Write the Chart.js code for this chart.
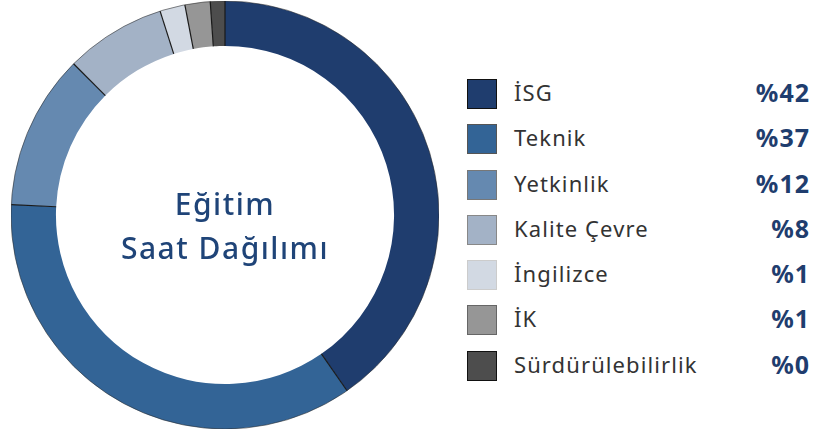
<!DOCTYPE html>
<html lang="tr">
<head>
<meta charset="utf-8">
<script src="https://cdn.jsdelivr.net/npm/chart.js@4/dist/chart.umd.min.js"></script>
<style>
  html, body { margin: 0; padding: 0; background: #fff; }
  body { width: 827px; height: 433px; position: relative; overflow: hidden; font-family: "Noto Sans", sans-serif; }
  #chartWrap { position: absolute; left: 11px; top: 1px; width: 428px; height: 428px; }
  #legend { position: absolute; left: 467px; top: 79px; width: 342px; }
  .row { position: relative; height: 45.3px; }
  .box { position: absolute; left: 0; top: 0; width: 28px; height: 28px; border: 1px solid #777; }
  .lbl { position: absolute; left: 47px; top: -2px; line-height: 30px; font-size: 22px; letter-spacing: 1.1px; color: #333; }
  .pct { position: absolute; right: -1px; top: -2px; line-height: 30px; font-size: 25px; letter-spacing: 1px; font-weight: 700; color: #1f3d6e; }
</style>
</head>
<body>
<div id="chartWrap"><canvas id="egitimChart"></canvas></div>
<div id="legend"></div>
<script>
// Eğitim saat dağılımı - halka grafik
const kategoriler = ['İSG', 'Teknik', 'Yetkinlik', 'Kalite Çevre', 'İngilizce', 'İK', 'Sürdürülebilirlik'];
const dilimler = [40.3, 35.4, 11.7, 7.6, 1.9, 1.9, 1.1]; // resimden okunan dilim payları
const yuzdeEtiketleri = ['%42', '%37', '%12', '%8', '%1', '%1', '%0'];
const renkler = ['#1f3d6e', '#336496', '#6589b0', '#a3b2c6', '#d2d9e3', '#969696', '#4d4d4d'];
const kutuKenar = ['#111', '#555', '#777', '#888', '#ccc', '#666', '#111'];
const merkezSatirlari = ['Eğitim', 'Saat Dağılımı'];

// Dilimler arasındaki koyu çizgiler + dış kenar
const ayiriciPlugin = {
    id: 'ayirici',
    afterDatasetsDraw(chart) {
        const ctx = chart.ctx;
        const arcs = chart.getDatasetMeta(0).data;
        if (!arcs.length) return;
        ctx.save();
        ctx.strokeStyle = '#1a1a1a';
        ctx.lineWidth = 1.2;
        arcs.forEach(a => {
            const c = Math.cos(a.startAngle), s = Math.sin(a.startAngle);
            ctx.beginPath();
            ctx.moveTo(a.x + c * a.innerRadius, a.y + s * a.innerRadius);
            ctx.lineTo(a.x + c * a.outerRadius, a.y + s * a.outerRadius);
            ctx.stroke();
        });
        ctx.strokeStyle = 'rgba(40,40,40,0.55)';
        ctx.lineWidth = 1;
        ctx.beginPath();
        ctx.arc(arcs[0].x, arcs[0].y, arcs[0].outerRadius, 0, Math.PI * 2);
        ctx.stroke();
        ctx.restore();
    }
};

// Ortadaki başlık
const merkezYaziPlugin = {
    id: 'merkezYazi',
    afterDraw(chart) {
        const a = chart.getDatasetMeta(0).data[0];
        if (!a) return;
        const ctx = chart.ctx;
        ctx.save();
        ctx.fillStyle = '#1f4478';
        ctx.font = '500 30px "Noto Sans", sans-serif';
        ctx.letterSpacing = '1.5px';
        ctx.textAlign = 'center';
        ctx.textBaseline = 'alphabetic';
        ctx.fillText(merkezSatirlari[0], a.x, a.y + 0);
        ctx.fillText(merkezSatirlari[1], a.x, a.y + 44);
        ctx.restore();
    }
};

new Chart(document.getElementById('egitimChart'), {
    type: 'doughnut',
    data: {
        labels: kategoriler,
        datasets: [{
            data: dilimler,
            backgroundColor: renkler,
            borderWidth: 0
        }]
    },
    options: {
        responsive: true,
        maintainAspectRatio: false,
        animation: false,
        cutout: '79%',
        layout: { padding: 0 },
        plugins: { legend: { display: false }, tooltip: { enabled: false } }
    },
    plugins: [ayiriciPlugin, merkezYaziPlugin]
});

// Sağdaki açıklama listesi
const legendEl = document.getElementById('legend');
kategoriler.forEach((k, i) => {
    const row = document.createElement('div');
    row.className = 'row';
    row.innerHTML = '<div class="box" style="background:' + renkler[i] + ';border-color:' + kutuKenar[i] + '"></div>' +
        '<div class="lbl">' + k + '</div><div class="pct">' + yuzdeEtiketleri[i] + '</div>';
    legendEl.appendChild(row);
});
</script>
</body>
</html>
